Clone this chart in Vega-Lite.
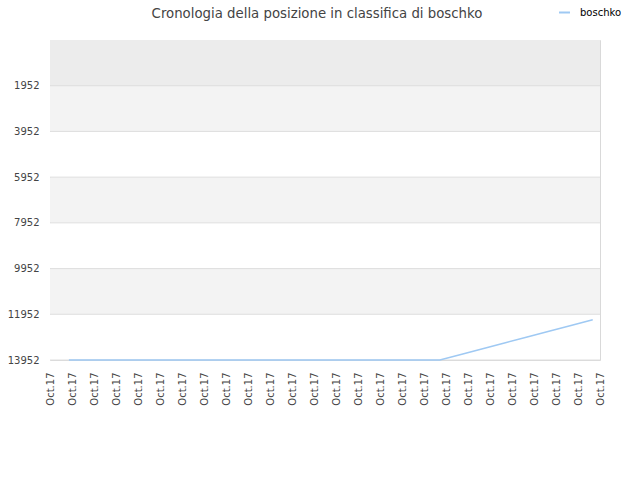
{
  "$schema": "https://vega.github.io/schema/vega-lite/v6.json",
  "autosize": {"type": "none"},
  "padding": {"left": 50, "top": 40, "right": 40, "bottom": 120},
  "width": 550,
  "height": 320,
  "background": "#ffffff",
  "config": {
    "font": "DejaVu Sans",
    "view": {"stroke": "#d9d9d9", "strokeWidth": 1}
  },
  "title": {
    "text": "Cronologia della posizione in classifica di boschko",
    "font": "DejaVu Sans",
    "fontSize": 13.3,
    "fontWeight": "normal",
    "color": "#444444",
    "anchor": "middle",
    "dx": -8,
    "dy": 35,
    "offset": 21
  },
  "datasets": {
    "bands": [
      {"lo": -48, "hi": 1952, "band": "top"},
      {"lo": 1952, "hi": 3952, "band": "grey"},
      {"lo": 3952, "hi": 5952, "band": "white"},
      {"lo": 5952, "hi": 7952, "band": "grey"},
      {"lo": 7952, "hi": 9952, "band": "white"},
      {"lo": 9952, "hi": 11952, "band": "grey"},
      {"lo": 11952, "hi": 13952, "band": "white"}
    ],
    "ranks": [
      {"t": 0.86, "rank": 13952, "series": "boschko"},
      {"t": 1.85, "rank": 13952, "series": "boschko"},
      {"t": 2.84, "rank": 13952, "series": "boschko"},
      {"t": 3.84, "rank": 13952, "series": "boschko"},
      {"t": 4.83, "rank": 13952, "series": "boschko"},
      {"t": 5.82, "rank": 13952, "series": "boschko"},
      {"t": 6.81, "rank": 13952, "series": "boschko"},
      {"t": 7.8, "rank": 13952, "series": "boschko"},
      {"t": 8.8, "rank": 13952, "series": "boschko"},
      {"t": 9.79, "rank": 13952, "series": "boschko"},
      {"t": 10.78, "rank": 13952, "series": "boschko"},
      {"t": 11.77, "rank": 13952, "series": "boschko"},
      {"t": 12.76, "rank": 13952, "series": "boschko"},
      {"t": 13.76, "rank": 13952, "series": "boschko"},
      {"t": 14.75, "rank": 13952, "series": "boschko"},
      {"t": 15.74, "rank": 13952, "series": "boschko"},
      {"t": 16.73, "rank": 13952, "series": "boschko"},
      {"t": 17.72, "rank": 13952, "series": "boschko"},
      {"t": 18.72, "rank": 13700, "series": "boschko"},
      {"t": 19.71, "rank": 13448, "series": "boschko"},
      {"t": 20.7, "rank": 13196, "series": "boschko"},
      {"t": 21.69, "rank": 12944, "series": "boschko"},
      {"t": 22.68, "rank": 12692, "series": "boschko"},
      {"t": 23.68, "rank": 12440, "series": "boschko"},
      {"t": 24.67, "rank": 12188, "series": "boschko"}
    ]
  },
  "layer": [
    {
      "data": {"name": "bands"},
      "mark": {"type": "rect"},
      "encoding": {
        "y": {"field": "lo", "type": "quantitative"},
        "y2": {"field": "hi"},
        "color": {
          "field": "band",
          "type": "nominal",
          "scale": {"domain": ["top", "grey", "white"], "range": ["#ececec", "#f3f3f3", "#ffffff"]},
          "legend": null
        }
      }
    },
    {
      "data": {"name": "bands"},
      "mark": {"type": "rule", "color": "#dedede", "strokeWidth": 1},
      "encoding": {
        "y": {"field": "hi", "type": "quantitative"}
      }
    },
    {
      "data": {"name": "ranks"},
      "mark": {"type": "line", "strokeWidth": 1.5},
      "encoding": {
        "x": {
          "field": "t",
          "type": "quantitative",
          "scale": {"domain": [0, 25], "nice": false, "zero": false},
          "axis": {
            "title": null,
            "grid": false,
            "domain": false,
            "ticks": false,
            "values": [0, 1, 2, 3, 4, 5, 6, 7, 8, 9, 10, 11, 12, 13, 14, 15, 16, 17, 18, 19, 20, 21, 22, 23, 24, 25],
            "labelExpr": "'Oct.17'",
            "labelAngle": -90,
            "labelAlign": "right",
            "labelBaseline": "middle",
            "labelFontSize": 10,
            "labelColor": "#444444",
            "labelPadding": 12,
            "labelOverlap": false,
            "labelBound": false,
            "labelFlush": false
          }
        },
        "y": {
          "field": "rank",
          "type": "quantitative",
          "scale": {"domain": [-48, 13952], "reverse": true, "nice": false, "zero": false},
          "axis": {
            "title": null,
            "domain": false,
            "ticks": false,
            "grid": false,
            "format": "d",
            "values": [1952, 3952, 5952, 7952, 9952, 11952, 13952],
            "labelFontSize": 10,
            "labelColor": "#444444",
            "labelPadding": 11,
            "labelFlush": false,
            "labelBound": false
          }
        },
        "color": {
          "field": "series",
          "type": "nominal",
          "scale": {"range": ["#9fc9f3"]},
          "legend": {
            "title": null,
            "orient": "none",
            "legendX": 508,
            "legendY": -34,
            "symbolType": "stroke",
            "symbolSize": 120,
            "symbolStrokeWidth": 2,
            "labelFontSize": 10,
            "labelColor": "#000000",
            "labelOffset": 9
          }
        }
      }
    }
  ],
  "resolve": {"scale": {"color": "independent"}}
}
